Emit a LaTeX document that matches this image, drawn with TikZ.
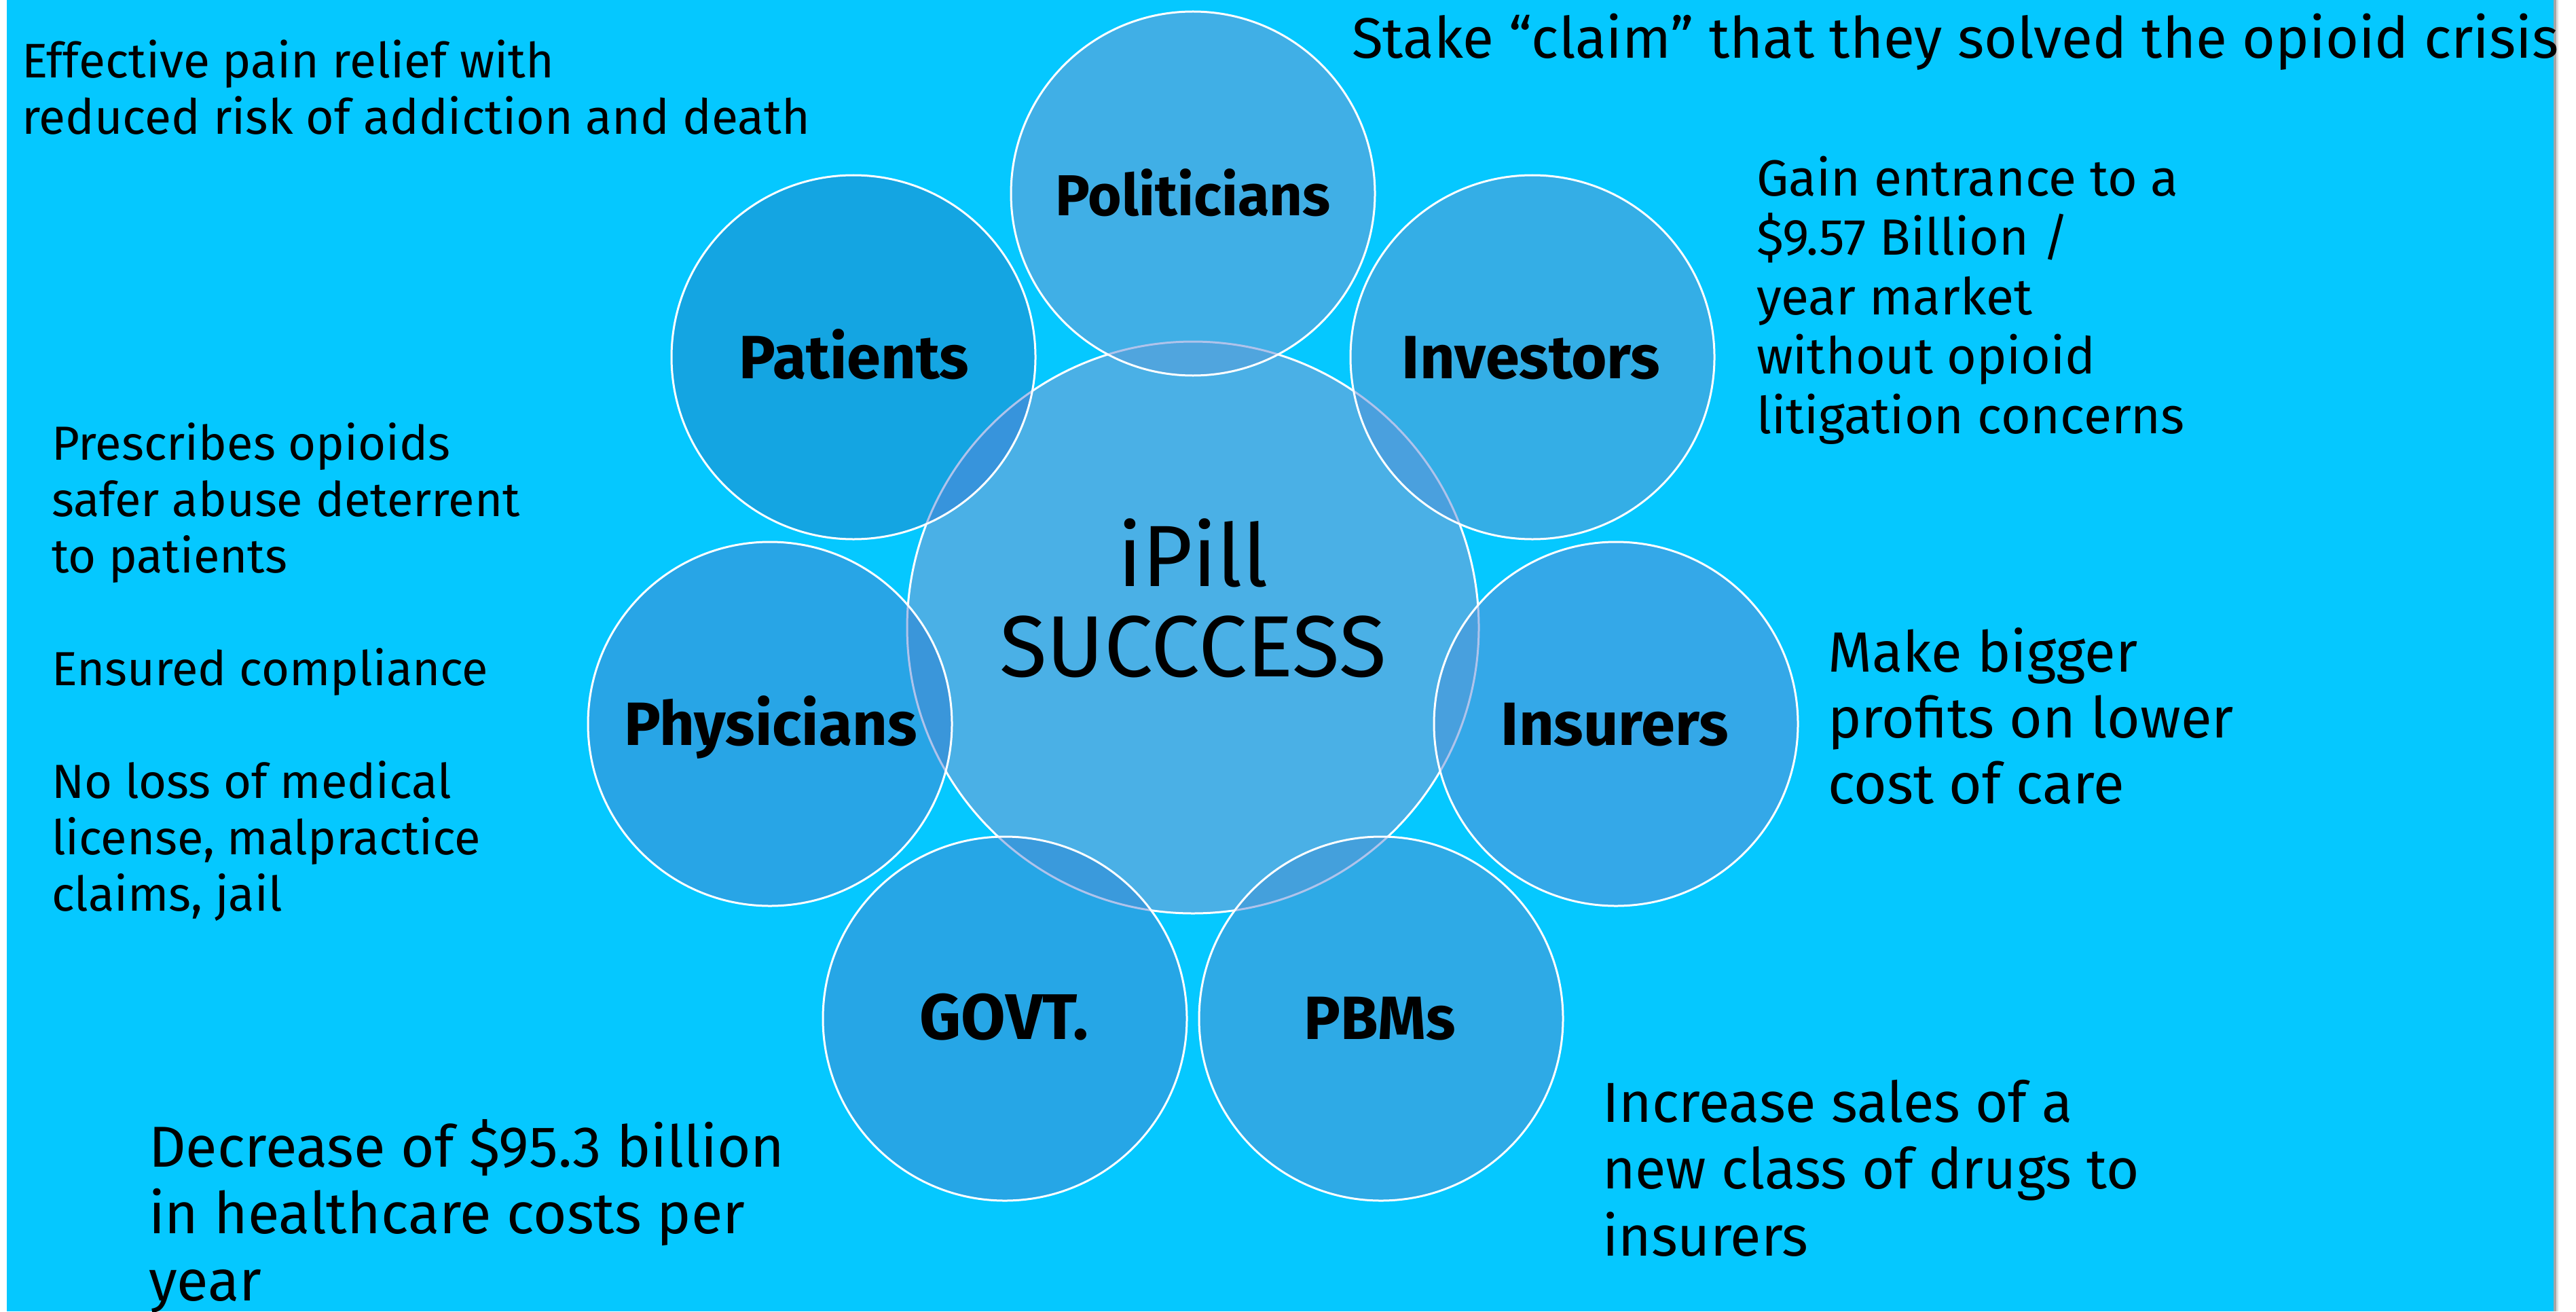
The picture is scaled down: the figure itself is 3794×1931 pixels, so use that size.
\documentclass[tikz,border=0pt]{standalone}
\usepackage{fontspec}
\setmainfont{Fira Sans}
\definecolor{bgblue}{RGB}{5,200,255}
\definecolor{cfill}{RGB}{74,176,230}
\definecolor{cpol}{RGB}{64,175,230}
\definecolor{cpat}{RGB}{20,165,226}
\definecolor{cinv}{RGB}{52,174,230}
\definecolor{cphy}{RGB}{40,165,230}
\definecolor{cins}{RGB}{52,168,232}
\definecolor{cgov}{RGB}{38,166,230}
\definecolor{cpbm}{RGB}{46,170,230}
\definecolor{opol}{RGB}{80,165,222}
\definecolor{opat}{RGB}{55,148,220}
\definecolor{oinv}{RGB}{74,160,222}
\definecolor{ophy}{RGB}{58,150,218}
\definecolor{oins}{RGB}{72,160,222}
\definecolor{ogov}{RGB}{58,154,220}
\definecolor{opbm}{RGB}{68,160,220}
\definecolor{faint}{RGB}{175,195,235}
\begin{document}
\begin{tikzpicture}[x=0.2pt,y=-0.2pt,
  satline/.style={draw=white,line width=0.6pt},
  lbl/.style={font=\fontsize{18}{20}\selectfont\bfseries,anchor=base,inner sep=0pt},
  txt/.style={align=left,anchor=base west,inner sep=0pt}]
\useasboundingbox (0,0) rectangle (3794,1931);
\fill[white] (0,0) rectangle (3794,1931);
\fill[bgblue] (10,0) rectangle (3761,1931);
\fill[black!35] (3761,0) rectangle (3765,1931);
\fill[black!12] (3765,0) rectangle (3768,1931);
% positions
\coordinate (c) at (1757,924);
\coordinate (pol) at (1757,285);
\coordinate (pat) at (1257,526);
\coordinate (phy) at (1134,1066);
\coordinate (gov) at (1480,1500);
\coordinate (pbm) at (2034,1500);
\coordinate (ins) at (2380,1066);
\coordinate (inv) at (2257,526);
% centre circle
\fill[cfill] (c) circle (421);
\draw[satline] (c) circle (421);
% satellites
\foreach \p/\f/\o in {pol/cpol/opol,pat/cpat/opat,inv/cinv/oinv,phy/cphy/ophy,ins/cins/oins,gov/cgov/ogov,pbm/cpbm/opbm}{
  \fill[\f] (\p) circle (268);
  \begin{scope}
    \clip (\p) circle (268);
    \fill[\o] (c) circle (421);
    \draw[faint,line width=0.6pt] (c) circle (421);
  \end{scope}
  \draw[satline] (\p) circle (268);
}
% labels
\node[lbl,font=\fontsize{17}{20}\selectfont\bfseries] (lpol) at (1757,317) {Politicians};
\node[lbl] (lpat) at (1258,557) {Patients};
\node[lbl] (linv) at (2255,557) {Investors};
\node[lbl] (lphy) at (1135,1097) {Physicians};
\node[lbl] (lins) at (2378,1097) {Insurers};
\node[lbl,font=\fontsize{19}{20}\selectfont\bfseries] (lgov) at (1479,1530) {GOVT.};
\node[lbl] (lpbm) at (2032,1530) {PBMs};
\node[align=center,anchor=base,inner sep=0pt,font=\fontsize{25.6}{26.6}\selectfont] (lc) at (1757,996) {iPill\\SUCCCESS};
% texts (anchor = baseline of last line)
\node[txt,font=\fontsize{14.3}{16.6}\selectfont] (tpat) at (31,198) {Effective pain relief with\\reduced risk of addiction and death};
\node[txt,font=\fontsize{16.8}{19}\selectfont] (tpol) at (1990,86) {Stake “claim” that they solved the opioid crisis};
\node[txt,font=\fontsize{15}{17.5}\selectfont] (tinv) at (2586,638) {Gain entrance to a\\\$9.57 Billion /\\year market\\without opioid\\litigation concerns};
\node[txt,font=\fontsize{14.1}{16.6}\selectfont] (tphy) at (75,1341) {Prescribes opioids\\safer abuse deterrent\\to patients\\[16.6pt]Ensured compliance\\[16.6pt]No loss of medical\\license, malpractice\\claims, jail};
\node[txt,font=\fontsize{16.7}{19.4}\selectfont] (tins) at (2691,1183) {Make bigger\\profits on lower\\cost of care};
\node[txt,font=\fontsize{16.6}{19.7}\selectfont] (tpbm) at (2359,1849) {Increase sales of a\\new class of drugs to\\insurers};
\node[txt,font=\fontsize{17}{19.7}\selectfont] (tgov) at (218,1915) {Decrease of \$95.3 billion\\in healthcare costs per\\year};
\end{tikzpicture}
\end{document}
